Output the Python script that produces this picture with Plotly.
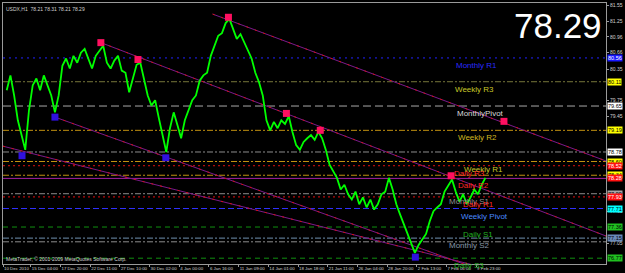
import plotly.graph_objects as go

# ---------------- data ----------------
bars = list(range(8, 1041, 8))
close = [79.95, 80.23, 79.85, 79.38, 79.10, 78.82, 79.57, 80.04, 80.17, 79.95,
         80.23, 80.04, 79.85, 79.53, 79.85, 80.41, 80.55, 80.36, 80.60, 80.47,
         80.66, 80.73, 80.55, 80.36, 80.60, 80.70, 80.79, 80.47, 80.36, 80.51,
         80.60, 80.32, 80.28, 79.91, 80.17, 80.43, 80.47, 80.13, 79.85, 79.66,
         79.76, 79.42, 79.10, 78.78, 79.23, 79.53, 79.29, 79.04, 79.38, 79.57,
         79.76, 79.85, 80.13, 80.23, 80.28, 80.60, 80.79, 80.98, 81.03, 81.22,
         81.30, 81.11, 80.92, 81.01, 80.85, 80.70, 80.55, 80.28, 80.10, 79.85,
         79.38, 79.19, 79.35, 79.23, 79.38, 79.31, 79.46, 79.16, 78.91, 78.82,
         78.97, 79.04, 79.10, 79.01, 79.16, 79.04, 78.82, 78.54, 78.41, 78.29,
         78.07, 78.16, 77.98, 77.88, 78.03, 77.79, 77.92, 77.73, 77.88, 77.69,
         77.79, 77.98, 78.03, 78.29, 78.07, 77.79, 77.60, 77.41, 77.23, 77.04,
         76.87, 77.02, 77.13, 77.23, 77.47, 77.66, 77.73, 77.79, 78.03, 78.14,
         78.26, 78.03, 77.84, 77.98, 77.79, 77.92, 78.07, 77.98, 78.16, 78.29]

time_ticks = [0, 60, 124, 188, 252, 316, 380, 444, 508, 572, 636, 700, 764,
              828, 892, 956, 1020]
time_labels = ["10 Dec 2010", "15 Dec 04:00", "17 Dec 20:00", "22 Dec 11:00",
               "27 Dec 10:00", "30 Dec 02:00", "4 Jan 00:00", "6 Jan 16:00",
               "11 Jan 09:00", "14 Jan 01:00", "18 Jan 18:00", "21 Jan 11:00",
               "26 Jan 04:00", "28 Jan 20:00", "2 Feb 13:00", "7 Feb 06:00",
               "9 Feb 23:00"]
price_ticks = [81.55, 81.25, 80.96, 80.66, 80.35, 79.75, 79.45, 77.65, 77.05]

up_bar = [211, 291, 486, 611, 684, 966, 1080]
up_price = [80.85, 80.53, 81.33, 79.51, 79.19, 78.33, 79.36]
down_bar = [41, 112, 351, 889]
down_price = [78.71, 79.44, 78.67, 76.79]

trend_bars = [[211, 1300], [452, 1300], [112, 1000], [0, 1010]]
trend_prices = [[80.85, 77.19], [81.39, 78.61], [79.44, 76.64], [78.89, 76.65]]

level_names = ["Monthly R1", "Weekly R3", "MonthlyPivot", "Weekly R2", "",
               "Weekly R1", "Daily R3", "", "Daily R2", "Monthly S1",
               "Daily R1", "Weekly Pivot", "Daily S1", "Monthly S2", "",
               "Daily S3"]
level_prices = [80.56, 80.11, 79.65, 79.19, 78.78, 78.60, 78.52, 78.34, 78.28,
                77.99, 77.93, 77.71, 77.36, 77.15, 77.08, 76.77]

last_price = 78.29
header = "USDX,H1  78.21 78.31 78.21 78.29"

# ---------------- styles ----------------
level_line_col = ["#2020ff", "#77773a", "#a8a8a8", "#c09010", "#8c8c8c",
                  "#c09010", "#e01010", "#c09010", "#a020a0", "#8c8c8c",
                  "#e01010", "#3030ff", "#109010", "#7090b0", "#8c8c8c",
                  "#109010"]
level_dash = ["2px,4px", "6px,2px,2px,2px", "8px,4px", "6px,2px,2px,2px",
              "6px,2px,2px,2px", "6px,2px,2px,2px", "2px,3px", "6px,2px,2px,2px",
              "solid", "6px,2px,2px,2px", "2px,3px", "6px,3px", "5px,4px",
              "6px,2px,2px,2px", "6px,2px,2px,2px", "5px,4px"]
box_bg = ["#1818ff", "#ffff00", "#ffffff", "#ffff00", "#ffffff", "#ffff00",
          "#ff1010", "#ffff00", "#ff1010", "#a8a8a8", "#ff1010", "#00ffff",
          "#20c020", "#6a8ab8", None, "#20c020"]
box_fg = ["#ffffff", "#000000", "#000000", "#000000", "#000000", "#000000",
          "#ffffff", "#000000", "#ffffff", "#000000", "#ffffff", "#000000",
          "#000000", "#000000", None, "#000000"]
label_col = ["#2a2aff", "#c8c828", "#d8d8d8", "#d0b820", None, "#c8c828",
             "#ff2828", None, "#ff2828", "#909090", "#ff2828", "#4a8aff",
             "#20b020", "#8898a8", None, "#20b020"]
label_bar = [973, 971, 975, 977, 0, 990, 969, 0, 977, 958, 988, 984, 988, 958,
             0, 967]

fig = go.Figure()

for i, p in enumerate(level_prices):
    fig.add_shape(type="line", xref="paper", x0=0, x1=1, yref="y", y0=p, y1=p,
                  line=dict(color=level_line_col[i], width=1,
                            dash=level_dash[i]), layer="below")

for tb, tp in zip(trend_bars, trend_prices):
    fig.add_trace(go.Scatter(x=tb, y=tp, mode="lines",
                             line=dict(color="#7a1a8a", width=1),
                             hoverinfo="skip", showlegend=False))
    fig.add_trace(go.Scatter(x=tb, y=tp, mode="lines",
                             line=dict(color="#d81010", width=1, dash="2px,7px"),
                             hoverinfo="skip", showlegend=False))

fig.add_trace(go.Scatter(x=bars, y=close, mode="lines",
                         line=dict(color="#00ff00", width=1.8),
                         showlegend=False))

fig.add_trace(go.Scatter(x=up_bar, y=up_price, mode="markers",
                         marker=dict(symbol="square", size=7, color="#ff1060"),
                         showlegend=False))
fig.add_trace(go.Scatter(x=down_bar, y=down_price, mode="markers",
                         marker=dict(symbol="square", size=7, color="#3010e0"),
                         showlegend=False))

ann = []
for i, p in enumerate(level_prices):
    if level_names[i]:
        ann.append(dict(x=label_bar[i], y=p, xref="x", yref="y", text=level_names[i],
                        showarrow=False, xanchor="left", yanchor="top", yshift=-1,
                        font=dict(family="Liberation Sans, Arial", size=8,
                                  color=label_col[i])))
    if box_bg[i]:
        ann.append(dict(x=1, y=p, xref="paper", yref="y", text=f"{p:.2f}",
                        showarrow=False, xanchor="left", xshift=1,
                        bgcolor=box_bg[i], borderpad=0,
                        font=dict(family="Liberation Sans, Arial", size=5.5,
                                  color=box_fg[i])))

ann.append(dict(x=1, y=1, xref="paper", yref="paper", text=f"{last_price:.2f}",
                showarrow=False, xanchor="right", yanchor="top", xshift=-2, yshift=-1,
                font=dict(family="Liberation Sans, Arial", size=35, color="#ffffff")))
ann.append(dict(x=0, y=1, xref="paper", yref="paper", text=header,
                showarrow=False, xanchor="left", yanchor="top", xshift=1, yshift=-1,
                font=dict(family="Liberation Sans, Arial", size=5, color="#d0d0d0")))
ann.append(dict(x=0, y=0, xref="paper", yref="paper",
                text="MetaTrader, © 2001-2009 MetaQuotes Software Corp.",
                showarrow=False, xanchor="left", yanchor="bottom", xshift=1, yshift=0,
                font=dict(family="Liberation Sans, Arial", size=5, color="#d0d0d0")))

fig.update_layout(
    width=625, height=273,
    margin=dict(l=3, r=18, t=2, b=8),
    paper_bgcolor="#000000", plot_bgcolor="#000000",
    showlegend=False,
    annotations=ann,
    xaxis=dict(range=[0, 1300], tickvals=time_ticks, ticktext=time_labels,
               tickangle=0,
               showgrid=False, zeroline=False, showline=True, mirror=True,
               linecolor="#9a9a9a", linewidth=1, ticks="outside", ticklen=2,
               tickcolor="#9a9a9a", ticklabelposition="outside right",
               tickfont=dict(family="Liberation Sans, Arial", size=4.4,
                             color="#d0d0d0")),
    yaxis=dict(range=[76.66, 81.60], side="right", tickvals=price_ticks,
               ticktext=[f"{v:.2f}" for v in price_ticks],
               showgrid=False, zeroline=False, showline=True, mirror=True,
               linecolor="#9a9a9a", linewidth=1, ticks="outside", ticklen=2,
               tickcolor="#9a9a9a",
               tickfont=dict(family="Liberation Sans, Arial", size=5,
                             color="#d0d0d0")),
)

fig.write_html("out.html")
